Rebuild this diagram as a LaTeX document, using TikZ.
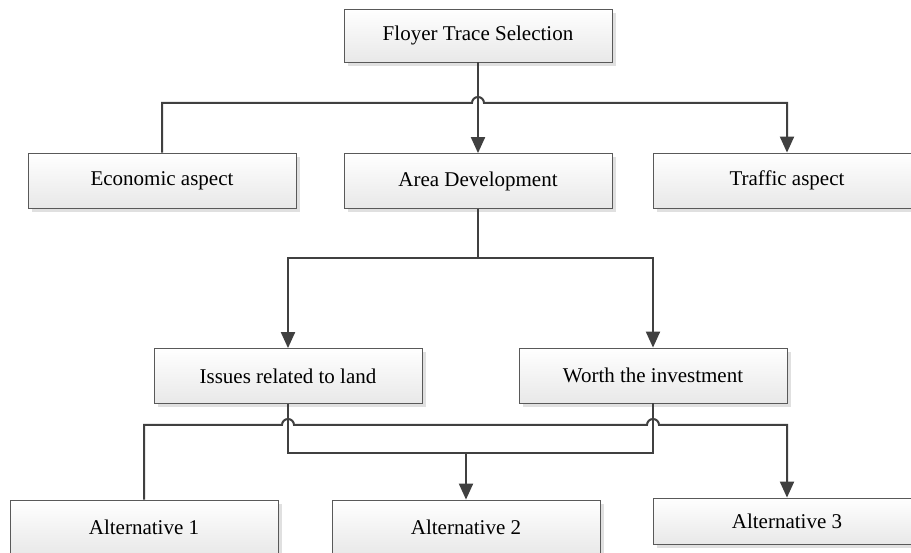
\documentclass[tikz,border=0pt]{standalone}
\usepackage{fontspec}
\setmainfont{Liberation Serif}
\usetikzlibrary{arrows.meta,shadows}

\begin{document}
\begin{tikzpicture}[x=1pt,y=-1pt,
  box/.style={rectangle,draw=black!65,line width=0.8pt,top color=white,bottom color=black!9,
    drop shadow={shadow xshift=4pt,shadow yshift=-4pt,fill=black!12,opacity=1},
    minimum width=268pt,minimum height=55pt,inner sep=0pt,font=\fontsize{21}{25}\selectfont},
  link/.style={draw=black!75,line width=2pt},
  arr/.style={link,-{Triangle[length=16pt,width=14pt]}}]
\useasboundingbox (0,0) rectangle (911,553);

\node[box,minimum height=53pt] at (478,35.5) (top) {Floyer Trace Selection};
\node[box] at (162,180.5) (econ) {Economic aspect};
\node[box] at (478,181) (area) {Area Development};
\node[box] at (787,180.5) (traffic) {Traffic aspect};
\node[box] at (288,376) (land) {Issues related to land};
\node[box] at (653,375.5) (worth) {Worth the investment};
\node[box] at (144,527.5) (alt1) {Alternative 1};
\node[box] at (466,527.5) (alt2) {Alternative 2};
\node[box,minimum height=46pt] at (787,521) (alt3) {Alternative 3};

\coordinate (h1) at (478,103);
\coordinate (b1) at (478,258);
\coordinate (b2) at (466,453);
\coordinate (h2) at (288,425);
\coordinate (h3) at (653,425);

\draw[arr] (top) -- (area);
\draw[arr] (econ.north) |- ([xshift=-6pt]h1) arc[start angle=180,end angle=0,radius=6pt] -| (traffic.north);
\draw[link] (area.south) -- (b1);
\draw[arr] (b1) -| (land.north);
\draw[arr] (b1) -| (worth.north);
\draw[arr] (land.south) |- (b2) -- (alt2.north);
\draw[link] (worth.south) |- (b2);
\draw[arr] (alt1.north) |- ([xshift=-6pt]h2) arc[start angle=180,end angle=0,radius=6pt]
  -- ([xshift=-6pt]h3) arc[start angle=180,end angle=0,radius=6pt] -| (alt3.north);
\end{tikzpicture}
\end{document}
